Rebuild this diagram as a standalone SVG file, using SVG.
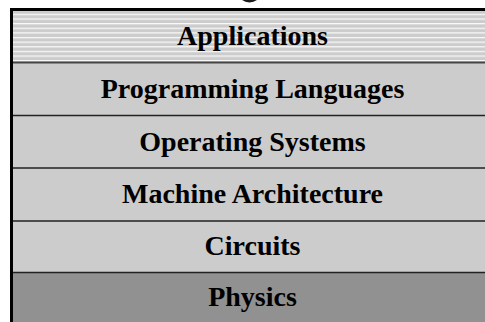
<svg xmlns="http://www.w3.org/2000/svg" width="485" height="322" viewBox="0 0 485 322">
  <style>
    .band { fill: #cccccc; }
    .phys { fill: #919191; }
    .sep { stroke: #222222; stroke-width: 1.6; fill: none; }
    .lbl { font-family: "Liberation Serif", "Times New Roman", serif; font-weight: bold; font-size: 28px; fill: #000000; text-anchor: middle; }
  </style>
  <defs>
    <pattern id="stripes" patternUnits="userSpaceOnUse" x="0" y="11" width="10" height="4.63">
      <rect x="0" y="0" width="10" height="4.63" fill="#cccccc"/>
      <rect x="0" y="2.9" width="10" height="1.1" fill="#ffffff"/>
    </pattern>
  </defs>
  <rect width="485" height="322" fill="#ffffff"/>
  <ellipse cx="249.5" cy="-6" rx="10.5" ry="8.5" fill="#1a1a1a"/>

  <g id="applications">
    <rect x="11" y="11" width="480" height="51" fill="url(#stripes)"/>
    <text class="lbl" x="252.5" y="45">Applications</text>
  </g>
  <g id="programming-languages">
    <rect class="band" x="11" y="62" width="480" height="54"/>
    <text class="lbl" x="252.5" y="98">Programming Languages</text>
  </g>
  <g id="operating-systems">
    <rect class="band" x="11" y="116" width="480" height="52"/>
    <text class="lbl" x="252.5" y="151">Operating Systems</text>
  </g>
  <g id="machine-architecture">
    <rect class="band" x="11" y="168" width="480" height="53"/>
    <text class="lbl" x="252.5" y="203">Machine Architecture</text>
  </g>
  <g id="circuits">
    <rect class="band" x="11" y="221" width="480" height="51"/>
    <text class="lbl" x="252.5" y="255">Circuits</text>
  </g>
  <g id="physics">
    <rect class="phys" x="11" y="272" width="480" height="52"/>
    <text class="lbl" x="252.5" y="306">Physics</text>
  </g>

  <g id="separators">
    <line class="sep" x1="11" y1="62.5" x2="490" y2="62.5" style="stroke:#444444;stroke-width:2"/>
    <line class="sep" x1="11" y1="115.5" x2="490" y2="115.5"/>
    <line class="sep" x1="11" y1="168" x2="490" y2="168"/>
    <line class="sep" x1="11" y1="221" x2="490" y2="221"/>
    <line class="sep" x1="11" y1="272.5" x2="490" y2="272.5"/>
  </g>
  <g id="frame">
    <line x1="11.5" y1="9.5" x2="490" y2="9.5" stroke="#000000" stroke-width="3"/>
    <line x1="11.5" y1="8" x2="11.5" y2="322" stroke="#000000" stroke-width="3"/>
  </g>
</svg>
